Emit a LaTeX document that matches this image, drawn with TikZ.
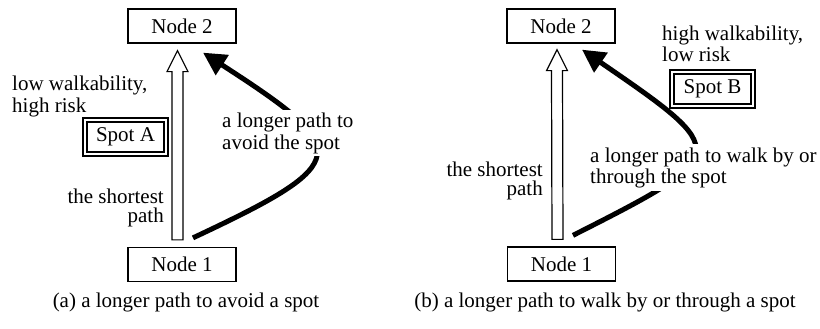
\documentclass[tikz,border=0pt]{standalone}
\usepackage{fontspec}
\setmainfont{Liberation Serif}
\usetikzlibrary{calc,arrows.meta}
\tikzset{
    every node/.style = {font=\fontsize{21}{21}\selectfont},
    nodebox/.style = {draw, line width=1.3pt, minimum width=108pt, minimum height=34pt, inner sep=0pt},
    spotbox/.style = {draw, fill=white, line width=1.4pt, double, double distance=2.8pt, minimum width=81pt, minimum height=34pt, inner sep=0pt},
    hollow/.style = {draw, fill=white, line width=1.2pt, line join=miter},
    longpath/.style = {line width=5pt, -{Triangle[length=23pt, width=23pt]}},
    lines/.style = {inner sep=0pt, anchor=base west, align=left},
    rlines/.style = {inner sep=0pt, anchor=base east, align=right}
}
\begin{document}
\begin{tikzpicture}[x=1pt, y=-1pt]
                \useasboundingbox (0, 0) rectangle (820, 329);
                % (a) avoid the spot
                \node [nodebox] (n2a) at (182, 26) {Node 2};
                \node [nodebox] (n1a) at (182, 264.5) {Node 1};
                \coordinate (b1) at ($(n1a.north)+(-4.5, -7)$);
                \coordinate (t1) at ($(n2a.south)+(-4.5, 7)$);
                \draw [hollow] ($(b1)+(-5.5, 0)$) -- ($(t1)+(-5.5, 21)$) -- ($(t1)+(-10.5, 21)$) -- (t1) -- ($(t1)+(10.5, 21)$) -- ($(t1)+(5.5, 21)$) -- ($(b1)+(5.5, 0)$) -- cycle;
                \coordinate (s1) at ($(n1a.north)+(11, -9)$);
                \coordinate (e1) at ($(n2a.south)+(21, 9)$);
                \draw [longpath] (s1) .. controls ($(s1)+(162, -76)$) and ($(e1)+(150, 97)$) .. (e1);
                \node [spotbox] (spotA) at (125.5, 137) {Spot A};
                \node [lines, font=\fontsize{21}{22}\selectfont] (riskA) at (12, 113) {low walkability,\\high risk};
                \node [rlines, font=\fontsize{21}{19}\selectfont] (shortA) at (164, 222) {the shortest\\path};
                \node [lines, fill=white, inner sep=3pt, font=\fontsize{21}{21}\selectfont] (avoidA) at (219, 149) {a longer path to\\avoid the spot};
                \node [inner sep=0pt, anchor=base] (capA) at (186, 307) {(a) a longer path to avoid a spot};
                % (b) walk by or through the spot
                \node [nodebox] (n2b) at (561, 26) {Node 2};
                \node [nodebox] (n1b) at (561.5, 264) {Node 1};
                \coordinate (b2) at ($(n1b.north)+(-4, -7)$);
                \coordinate (t2) at ($(n2b.south)+(-4, 6)$);
                \draw [hollow] ($(b2)+(-5.5, 0)$) -- ($(t2)+(-5.5, 21)$) -- ($(t2)+(-10.5, 21)$) -- (t2) -- ($(t2)+(10.5, 21)$) -- ($(t2)+(5.5, 21)$) -- ($(b2)+(5.5, 0)$) -- cycle;
                \coordinate (s2) at ($(n1b.north)+(11.5, -11)$);
                \coordinate (e2) at ($(n2b.south)+(21, 6)$);
                \draw [longpath] (s2) .. controls ($(s2)+(160, -81)$) and ($(e2)+(150, 103)$) .. (e2);
                \node [spotbox] (spotB) at (712.5, 89) {Spot B};
                \node [lines] (riskB) at (662, 62) {high walkability,\\low risk};
                \node [rlines, font=\fontsize{21}{19}\selectfont] (shortB) at (543, 195) {the shortest\\path};
                \node [lines, fill=white, inner sep=3pt] (walkB) at (587, 183) {a longer path to walk by or\\through the spot};
                \node [inner sep=0pt, anchor=base] (capB) at (605, 307) {(b) a longer path to walk by or through a spot};
            \end{tikzpicture}
\end{document}
